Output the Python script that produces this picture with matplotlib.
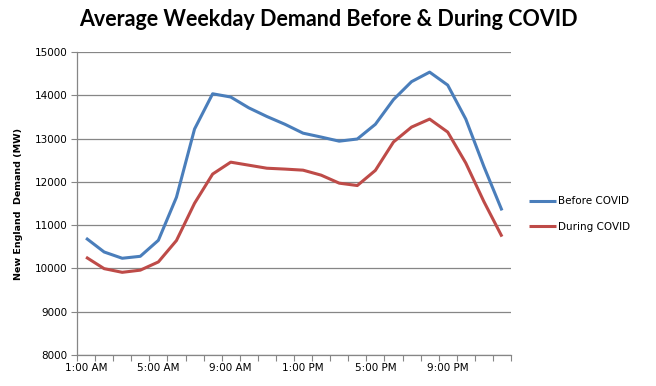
import matplotlib
matplotlib.use("Agg")
import matplotlib.pyplot as plt
import numpy as np

hours = ["1:00 AM", "2:00 AM", "3:00 AM", "4:00 AM", "5:00 AM", "6:00 AM",
         "7:00 AM", "8:00 AM", "9:00 AM", "10:00 AM", "11:00 AM", "12:00 PM",
         "1:00 PM", "2:00 PM", "3:00 PM", "4:00 PM", "5:00 PM", "6:00 PM",
         "7:00 PM", "8:00 PM", "9:00 PM", "10:00 PM", "11:00 PM", "12:00 AM"]
before_covid = [10700, 10380, 10235, 10280, 10650, 11645, 13220, 14035,
                13960, 13710, 13510, 13330, 13125, 13035, 12940, 12990,
                13330, 13900, 14315, 14535, 14235, 13450, 12355, 11340]
during_covid = [10260, 9995, 9910, 9960, 10150, 10645, 11505, 12180,
                12455, 12385, 12315, 12295, 12270, 12155, 11970, 11915,
                12265, 12920, 13265, 13450, 13150, 12435, 11545, 10735]
series_names = ["Before COVID", "During COVID"]
y_ticks = [8000, 9000, 10000, 11000, 12000, 13000, 14000, 15000]

fig = plt.figure(figsize=(6.56, 3.86), dpi=100)
ax = fig.add_axes([77/656, 1 - 355/386, (511-77)/656, (355-52)/386])

x = np.arange(len(hours))
ax.plot(x, before_covid, color="#4A7EBB", lw=2.2, label=series_names[0], solid_capstyle="butt")
ax.plot(x, during_covid, color="#BE4B48", lw=2.2, label=series_names[1], solid_capstyle="butt")

ax.set_xlim(-0.5, len(hours) - 0.5)
ax.set_ylim(8000, 15000)
ax.set_yticks(y_ticks)
ax.set_yticklabels([str(v) for v in y_ticks])
ax.set_xticks(x[::4])
ax.set_xticklabels(hours[::4])
ax.set_xticks(np.arange(-0.5, len(hours), 1), minor=True)
ax.tick_params(axis="x", which="major", length=0, pad=6, labelsize=7.5)
ax.tick_params(axis="x", which="minor", length=4, color="#868686", width=0.8, direction="out")
ax.tick_params(axis="y", length=4, color="#868686", width=0.8, labelsize=7.5, pad=3)

ax.grid(axis="y", color="#868686", lw=0.9)
ax.set_axisbelow(True)
for s in ["top", "right"]:
    ax.spines[s].set_visible(False)
for s in ["left", "bottom"]:
    ax.spines[s].set_color("#868686")
    ax.spines[s].set_linewidth(0.9)

ax.set_ylabel("New England  Demand (MW)", fontsize=6.8, fontweight="bold", labelpad=8)
fig.text(0.5, 1 - 20/386, "Average Weekday Demand Before & During COVID",
         ha="center", va="center", fontsize=15.5, fontweight="bold", family="Lato")

leg = ax.legend(loc="center left", bbox_to_anchor=(1.02, 0.465), frameon=False,
                fontsize=7.5, handlelength=2.6, handletextpad=0.2, labelspacing=1.5)

fig.savefig("out.png", dpi=100)
